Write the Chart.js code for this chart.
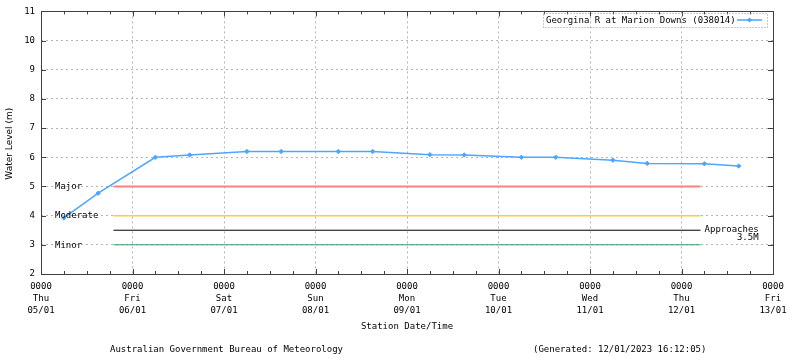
<!DOCTYPE html>
<html><head><meta charset="utf-8">
<script src="https://cdn.jsdelivr.net/npm/chart.js@4/dist/chart.umd.min.js"></script>
<style>html,body{margin:0;padding:0;background:#fff}#wrap{width:800px;height:358px;position:relative}canvas{display:block}</style>
</head><body><div id="wrap"><canvas id="c" width="800" height="358"></canvas></div>
<script>
// ---- data ----
const seriesName = 'Georgina R at Marion Downs (038014)';
const obsHours  = [6, 15, 30, 39, 54, 63, 78, 87, 102, 111, 126, 135, 150, 159, 174, 183]; // hours after Thu 05/01 0000
const obsLevels = [3.92, 4.77, 6.0, 6.08, 6.2, 6.2, 6.2, 6.2, 6.09, 6.08, 6.0, 6.0, 5.9, 5.79, 5.78, 5.7];
const tickTimes = ['0000','0000','0000','0000','0000','0000','0000','0000','0000'];
const dayNames  = ['Thu','Fri','Sat','Sun','Mon','Tue','Wed','Thu','Fri'];
const dayDates  = ['05/01','06/01','07/01','08/01','09/01','10/01','11/01','12/01','13/01'];
const classNames  = ['Major','Moderate','Approaches','Minor'];
const classLevels = [5, 4, 3.5, 3];
const classSpan   = [19, 173]; // hours
const yTicks = [2,3,4,5,6,7,8,9,10,11];
const xTitle = 'Station Date/Time';
const yTitle = 'Water Level (m)';
const footerLeft = 'Australian Government Bureau of Meteorology';
const footerRight = '(Generated: 12/01/2023 16:12:05)';

// ---- styles ----
const classColors = ['#ff8080', '#ffcc33', '#000000', '#339966'];
const classWidths = [2, 1.5, 1, 1];
const lineColor = '#4da6ff';
const MONO = '9px "DejaVu Sans Mono", "Liberation Mono", monospace';
const SANS = '9px "DejaVu Sans", sans-serif';

const datasets = [{
  label: seriesName,
  data: obsHours.map((h, i) => ({x: h, y: obsLevels[i]})),
  borderColor: lineColor,
  backgroundColor: lineColor,
  borderWidth: 1.5,
  pointStyle: 'rectRot',
  pointRadius: 2.2,
  pointBorderWidth: 1,
  tension: 0,
  order: 0
}];
classNames.forEach((n, i) => {
  datasets.push({
    label: n,
    data: [{x: classSpan[0], y: classLevels[i]}, {x: classSpan[1], y: classLevels[i]}],
    borderColor: classColors[i],
    borderWidth: classWidths[i],
    pointRadius: 0,
    order: 1
  });
});

const decor = {
  id: 'decor',
  afterDatasetsDraw(chart) {
    const ctx = chart.ctx, a = chart.chartArea;
    const xs = chart.scales.x, ys = chart.scales.y;
    ctx.save();
    // frame
    ctx.strokeStyle = '#404040';
    ctx.lineWidth = 1;
    ctx.strokeRect(Math.round(a.left) + 0.5, Math.round(a.top) + 0.5,
                   Math.round(a.right - a.left) - 1 + 1, Math.round(a.bottom - a.top));
    // x ticks (inward)
    ctx.beginPath();
    for (let h = 0; h <= 192; h += 6) {
      const px = Math.round(xs.getPixelForValue(h)) + 0.5;
      const len = (h % 24 === 0) ? 5 : 3;
      ctx.moveTo(px, a.bottom); ctx.lineTo(px, a.bottom - len);
      ctx.moveTo(px, a.top); ctx.lineTo(px, a.top + len);
    }
    // y ticks (inward, both sides)
    yTicks.forEach(v => {
      const py = Math.round(ys.getPixelForValue(v)) + 0.5;
      ctx.moveTo(a.left, py); ctx.lineTo(a.left + 5, py);
      ctx.moveTo(a.right, py); ctx.lineTo(a.right - 5, py);
    });
    ctx.stroke();

    // class labels
    ctx.fillStyle = '#000';
    ctx.font = MONO;
    ctx.textBaseline = 'middle';
    ctx.textAlign = 'left';
    ['Major','Moderate','Minor'].forEach(n => {
      const i = classNames.indexOf(n);
      ctx.fillText(n, a.left + 14, ys.getPixelForValue(classLevels[i]) + 0.5);
    });
    const iA = classNames.indexOf('Approaches');
    const yA = ys.getPixelForValue(classLevels[iA]);
    const xA = xs.getPixelForValue(classSpan[1]);
    ctx.fillText('Approaches', xA + 4, yA - 0.5);
    ctx.textAlign = 'right';
    ctx.fillText(classLevels[iA] + 'M', xA + 58, yA + 7);

    // legend
    ctx.setLineDash([1, 2]);
    ctx.strokeStyle = '#909090';
    ctx.lineWidth = 1;
    ctx.strokeRect(543.5, 13.5, 224, 14);
    ctx.setLineDash([]);
    ctx.textAlign = 'left';
    ctx.fillStyle = '#000';
    ctx.fillText(seriesName, 546, 20.5);
    ctx.strokeStyle = lineColor;
    ctx.lineWidth = 1.5;
    ctx.beginPath(); ctx.moveTo(737, 20); ctx.lineTo(762, 20); ctx.stroke();
    ctx.fillStyle = lineColor;
    ctx.beginPath(); ctx.moveTo(749.5, 17.5); ctx.lineTo(752, 20); ctx.lineTo(749.5, 22.5); ctx.lineTo(747, 20); ctx.closePath(); ctx.fill();

    // axis titles
    ctx.fillStyle = '#000';
    ctx.textAlign = 'center';
    ctx.fillText(xTitle, (a.left + a.right) / 2, 327);
    ctx.save();
    ctx.translate(10, (a.top + a.bottom) / 2 + 1);
    ctx.rotate(-Math.PI / 2);
    ctx.font = SANS;
    ctx.fillText(yTitle, 0, 0);
    ctx.restore();
    // footer
    ctx.font = MONO;
    ctx.textAlign = 'left';
    ctx.fillText(footerLeft, 110, 350);
    ctx.fillText(footerRight, 533, 350);
    ctx.restore();
  }
};

new Chart(document.getElementById('c'), {
  type: 'line',
  data: { datasets },
  options: {
    responsive: false,
    animation: false,
    devicePixelRatio: 1,
    layout: { padding: { left: 0, right: 27, top: 11, bottom: 0 } },
    plugins: { legend: { display: false }, tooltip: { enabled: false } },
    scales: {
      x: {
        type: 'linear', min: 0, max: 192,
        afterFit: s => { s.height = 84; },
        afterBuildTicks: s => { const t = []; for (let h = 0; h <= 192; h += 24) t.push({value: h}); s.ticks = t; },
        ticks: {
          autoSkip: false, maxRotation: 0, padding: 7, color: '#000',
          font: { family: '"DejaVu Sans Mono", "Liberation Mono", monospace', size: 9, lineHeight: '12px' },
          callback: v => { const d = Math.round(v / 24); return [tickTimes[d], dayNames[d], dayDates[d]]; }
        },
        grid: { color: '#b4b4b4', lineWidth: 1, drawTicks: false },
        border: { display: false, dash: [2, 3] }
      },
      y: {
        min: 2, max: 11,
        afterFit: s => { s.width = 41; },
        afterBuildTicks: s => { s.ticks = yTicks.map(v => ({value: v})); },
        ticks: {
          padding: 6, color: '#000',
          font: { family: '"DejaVu Sans Mono", "Liberation Mono", monospace', size: 9 },
          callback: v => String(v)
        },
        grid: { color: '#b4b4b4', lineWidth: 1, drawTicks: false },
        border: { display: false, dash: [2, 3] }
      }
    }
  },
  plugins: [decor]
});
</script>
</body></html>
